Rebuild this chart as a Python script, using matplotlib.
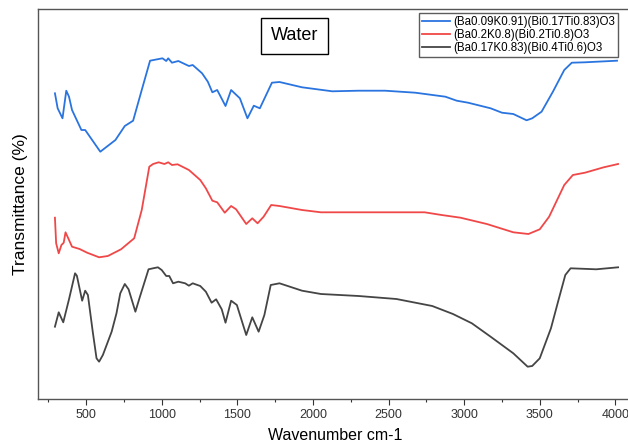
import matplotlib
matplotlib.use("Agg")
import matplotlib.pyplot as plt
from matplotlib.ticker import MultipleLocator

plt.rcParams['font.family'] = ['Liberation Sans', 'DejaVu Sans']

# FTIR spectra (wavenumber in cm-1, transmittance in arbitrary offset units)
wn_a = [294, 312, 344, 369, 387, 407, 469, 494, 594, 694, 756, 811, 868, 923,
        1005, 1030, 1043, 1068, 1110, 1180, 1205, 1267, 1305, 1335, 1367, 1422,
        1459, 1517, 1567, 1609, 1649, 1729, 1779, 1928, 2128, 2302, 2477, 2677,
        2876, 2951, 3026, 3175, 3250, 3325, 3413, 3450, 3512, 3587, 3662, 3712,
        3799, 4011]
t_a = [305.7, 290.7, 280.7, 308.3, 302.3, 289, 269, 269, 247.3, 259, 273, 278.3,
       309, 338.3, 340.7, 338, 340.7, 336.3, 338, 333, 334, 325.7, 317.3, 306.7,
       309, 293, 309, 300.7, 280.7, 293.3, 290.7, 316.3, 317, 311.7, 307.7, 308.3,
       308.3, 306.3, 302.3, 298.3, 296.3, 290.7, 286.3, 285, 278.7, 280.7, 287.3,
       307.3, 329, 336.3, 336.7, 338.3]

wn_b = [294, 302, 319, 337, 352, 364, 382, 407, 457, 507, 586, 644, 731, 818,
        868, 918, 943, 980, 1018, 1043, 1068, 1105, 1180, 1255, 1292, 1335, 1367,
        1417, 1459, 1492, 1559, 1599, 1634, 1674, 1724, 1779, 1928, 2053, 2739,
        2851, 2976, 3150, 3325, 3425, 3500, 3562, 3662, 3719, 3799, 3923, 4018]
t_b = [181.3, 155.7, 145.7, 154, 156.3, 166.7, 160.7, 152.3, 150, 146.3, 141.7,
       143, 149.7, 160.7, 189, 232.3, 235, 236.7, 235, 236.7, 234, 234.7, 229, 219,
       210.7, 198.3, 196.7, 186.3, 193, 189.7, 175, 180.7, 175.7, 182.3, 194, 193,
       189, 186.7, 186.7, 184, 181.3, 175, 166.7, 165, 169.7, 182.3, 214, 224,
       226.3, 231.7, 235]

wn_c = [294, 319, 349, 387, 427, 439, 474, 494, 512, 544, 569, 586, 611, 669,
        701, 726, 756, 781, 826, 856, 913, 943, 975, 1000, 1030, 1050, 1075, 1110,
        1155, 1180, 1205, 1255, 1292, 1330, 1360, 1397, 1422, 1459, 1497, 1559,
        1599, 1641, 1679, 1721, 1779, 1928, 2053, 2302, 2552, 2789, 2926, 3051,
        3175, 3325, 3420, 3450, 3500, 3574, 3624, 3669, 3704, 3874, 4018]
t_c = [72.3, 86.7, 76.7, 99.7, 125.7, 123.3, 98.3, 108.3, 104, 67.3, 40.7, 37.3,
       44, 67.3, 85.7, 105.7, 115, 109.7, 87.3, 102.3, 129.7, 130.7, 131.7, 129,
       123, 123, 115.7, 117.3, 115.7, 113.3, 115.7, 113, 107.3, 96.3, 99.7, 89.7,
       76.3, 98.3, 94, 64, 81.7, 67.3, 84, 114, 115.7, 108.3, 105, 103, 100, 93,
       85, 75.7, 62.3, 45.7, 32.3, 33, 40.7, 70.7, 99, 124, 130.7, 129.7, 131.7]

labels = ["(Ba0.09K0.91)(Bi0.17Ti0.83)O3",
          "(Ba0.2K0.8)(Bi0.2Ti0.8)O3",
          "(Ba0.17K0.83)(Bi0.4Ti0.6)O3"]
colors = ["#2a74e0", "#f04848", "#454545"]

fig = plt.figure(figsize=(6.28, 4.43), dpi=100)
ax = fig.add_axes([38 / 628, 44 / 443, 594 / 628, 390 / 443])

for wn, t, lab, col in zip([wn_a, wn_b, wn_c], [t_a, t_b, t_c], labels, colors):
    ax.plot(wn, t, "-", color=col, lw=1.3, label=lab)

ax.set_xlim(182, 4110)
ax.set_ylim(0, 390)
ax.xaxis.set_major_locator(MultipleLocator(500))
ax.xaxis.set_minor_locator(MultipleLocator(250))
ax.set_yticks([])
ax.tick_params(axis='x', which='major', direction='out', length=4, width=0.8,
               labelsize=9, colors='#333333', pad=3)
ax.tick_params(axis='x', which='minor', direction='out', length=2, width=0.8,
               colors='#333333')
for s in ax.spines.values():
    s.set_color('#555555')
    s.set_linewidth(1.0)

ax.set_xlabel("Wavenumber cm-1", fontsize=11.5, labelpad=5)
ax.set_ylabel("Transmittance (%)", fontsize=12.5, labelpad=7)

ax.text(1877, 363, "Water", fontsize=13, ha='center', va='center',
        bbox=dict(boxstyle='square,pad=0.55', fc='white', ec='black', lw=1.0))

leg = ax.legend(loc='upper right', bbox_to_anchor=(618 / 628, 1 - 12.7 / 443),
                bbox_transform=fig.transFigure, borderaxespad=0,
                fontsize=8.3, frameon=True, fancybox=False, edgecolor='#333333',
                handlelength=2.5, handletextpad=0.25, borderpad=0.25,
                labelspacing=0.1)
leg.get_frame().set_linewidth(1.0)

plt.savefig("out.png", dpi=100)
